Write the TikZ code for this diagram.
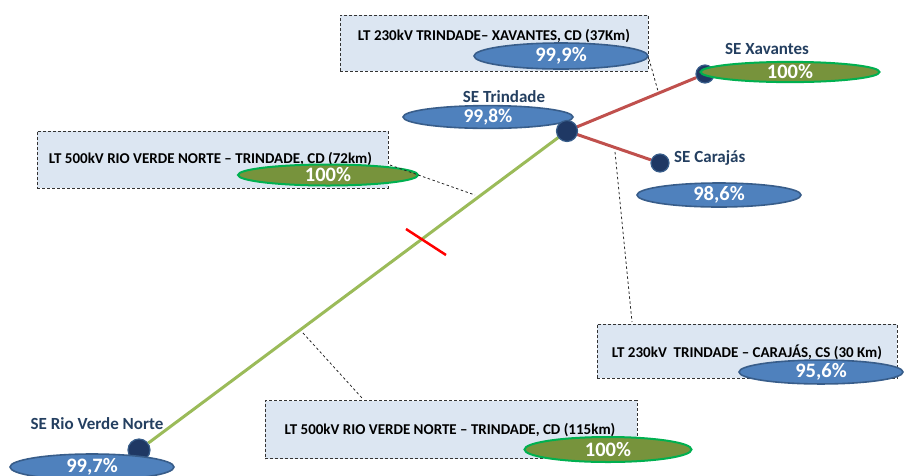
\documentclass[tikz,border=0pt]{standalone}
\usepackage{fontspec}
\setmainfont{Carlito}
\usetikzlibrary{shapes.geometric}
\definecolor{boxfill}{HTML}{DCE6F2}
\definecolor{ellblue}{HTML}{4F81BD}
\definecolor{ellblueb}{HTML}{385D8A}
\definecolor{ellgreen}{HTML}{77933C}
\definecolor{ellgreenb}{HTML}{00B050}
\definecolor{navy}{HTML}{1F3864}
\definecolor{navyb}{HTML}{385D8A}
\definecolor{linered}{HTML}{C0504D}
\definecolor{linegreen}{HTML}{9BBB59}
\definecolor{setext}{HTML}{243F60}
\tikzset{
  infobox/.style={draw=black!80, dashed, dash pattern=on 3pt off 2pt, line width=0.8pt, fill=boxfill, rectangle, inner sep=0pt},
  boxtext/.style={font=\bfseries\fontsize{15}{17}\selectfont, text=black, inner sep=0pt},
  blueell/.style={ellipse, draw=ellblueb, line width=1.6pt, fill=ellblue, inner sep=0pt, text=white, font=\bfseries\fontsize{20.5}{22}\selectfont},
  greenell/.style={ellipse, draw=ellgreenb, line width=2pt, fill=ellgreen, inner sep=0pt, text=white, font=\bfseries\fontsize{20.5}{22}\selectfont},
  subst/.style={circle, draw=navyb, line width=1.2pt, fill=navy, inner sep=0pt},
  selabel/.style={text=setext, font=\bfseries\fontsize{17}{19}\selectfont, inner sep=0pt},
  leader/.style={draw=black!85, dashed, dash pattern=on 2.5pt off 2.5pt, line width=0.8pt},
  redline/.style={draw=linered, line width=3pt},
  greenline/.style={draw=linegreen, line width=3pt}
}
\begin{document}
\begin{tikzpicture}[x=1pt,y=-1pt]
\useasboundingbox (0,0) rectangle (905,475);
% info boxes
\node[infobox, minimum width=308pt, minimum height=56pt] (b1) at (494,43) {};
\node[boxtext] (t1) at (494,36) {LT 230kV TRINDADE– XAVANTES, CD (37Km)};
\node[infobox, minimum width=351pt, minimum height=57pt] (b2) at (212.5,159.5) {};
\node[boxtext] (t2) at (210.5,159) {LT 500kV RIO VERDE NORTE – TRINDADE, CD (72km)};
\node[infobox, minimum width=300pt, minimum height=54pt] (b3) at (747,351) {};
\node[boxtext] (t3) at (747,352) {LT 230kV\ \ TRINDADE – CARAJÁS, CS (30 Km)};
\node[infobox, minimum width=372pt, minimum height=58pt] (b4) at (451,429.5) {};
\node[boxtext] (t4) at (450,430) {LT 500kV RIO VERDE NORTE – TRINDADE, CD (115km)};
% box ellipses
\node[blueell, minimum width=174pt, minimum height=26pt] (e1) at (561,56) {99,9\%};
\node[greenell, minimum width=180pt, minimum height=21pt] (e2) at (328,175) {100\%};
\node[blueell, minimum width=164pt, minimum height=22pt] (e3) at (821,372) {95,6\%};
\node[greenell, minimum width=167pt, minimum height=25pt] (e4) at (608,449.5) {100\%};
% substations
\node[subst, minimum size=22pt] (rvn) at (139,450) {};
\node[subst, minimum size=18pt] (xav) at (705,74) {};
\node[subst, minimum size=18pt] (car) at (660,163) {};
% transmission lines
\draw[greenline] (rvn) -- (567,131) coordinate (trinc);
\draw[redline] (trinc) -- (xav);
\draw[redline] (trinc) -- (car);
% red tick
\coordinate (tk1) at (406,229);
\coordinate (tk2) at (446,255);
\draw[draw=red, line width=2.5pt] (tk1) -- (tk2);
% Trindade
\node[blueell, minimum width=170pt, minimum height=13pt, font=\bfseries\fontsize{19.5}{20}\selectfont] (etr) at (488,117) {99,8\%};
\node[selabel] (ltr) at (504,97) {SE Trindade};
\node[subst, minimum size=21pt] (tri) at (567,131) {};
% Xavantes
\node[greenell, minimum width=179pt, minimum height=16pt] (exa) at (790,72) {100\%};
\node[selabel] (lxa) at (767,49) {SE Xavantes};
% Carajas
\node[selabel, anchor=west] (lca) at (674,158) {SE Carajás};
\node[blueell, minimum width=164pt, minimum height=24pt] (eca) at (719,195) {98,6\%};
% Rio Verde Norte
\node[selabel] (lrv) at (97,424) {SE Rio Verde Norte};
\node[blueell, minimum width=164pt, minimum height=26pt] (erv) at (92,467) {99,7\%};
% leaders
\coordinate (l1a) at (649,59);
\coordinate (l1b) at (658,91);
\draw[leader] (l1a) -- (l1b);
\coordinate (l2a) at (390,165);
\coordinate (l2b) at (475,195);
\draw[leader] (l2a) -- (l2b);
\coordinate (l3a) at (615,152);
\coordinate (l3b) at (632,322);
\draw[leader] (l3a) -- (l3b);
\coordinate (l4a) at (303,333);
\coordinate (l4b) at (362,398);
\draw[leader] (l4a) -- (l4b);
\end{tikzpicture}
\end{document}
